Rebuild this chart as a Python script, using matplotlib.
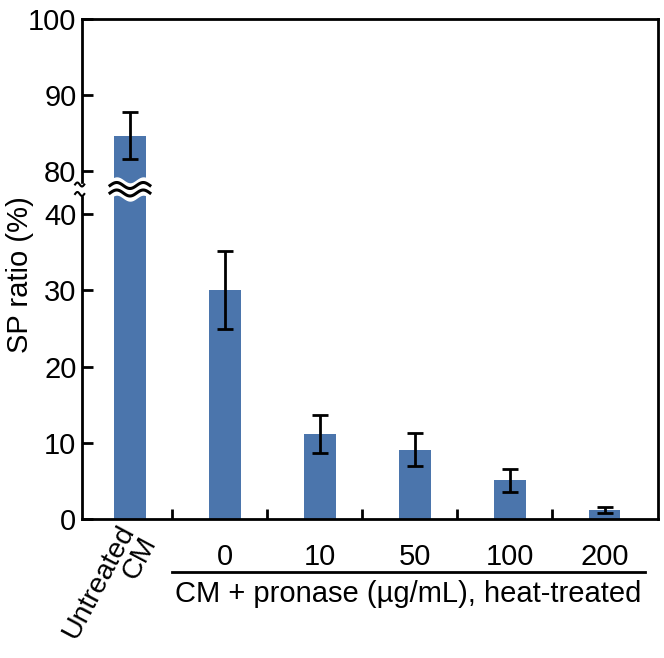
import numpy as np
import matplotlib
matplotlib.use("Agg")
import matplotlib.pyplot as plt
import matplotlib.transforms as mtransforms

plt.rcParams['font.family'] = ['Liberation Sans', 'DejaVu Sans']

categories = ["Untreated\nCM", "0", "10", "50", "100", "200"]
values = [84.7, 30.0, 11.1, 9.1, 5.1, 1.2]
errors = [3.1, 5.1, 2.5, 2.2, 1.5, 0.35]
group_label = "CM + pronase (µg/mL), heat-treated"
ylabel = "SP ratio (%)"
yticks = [0, 10, 20, 30, 40, 80, 90, 100]

GAP = 5.6  # scaled units for the break between 40 and 80
FS = 21


def fwd(v):
    v = np.asarray(v, dtype=float)
    return np.where(v <= 40, v,
                    np.where(v >= 80, v - 80 + 40 + GAP,
                             40 + (v - 40) * GAP / 40))


def inv(s):
    s = np.asarray(s, dtype=float)
    return np.where(s <= 40, s,
                    np.where(s >= 40 + GAP, s - 40 - GAP + 80,
                             40 + (s - 40) * 40 / GAP))


color = '#4b75ac'
fig = plt.figure(figsize=(6.64, 6.58), dpi=100)
ax = fig.add_axes([82/664, 1 - 519/658, (658-82)/664, 500/658])
ax.set_yscale('function', functions=(fwd, inv))

x = np.arange(len(categories))
ax.bar(x, values, width=0.33, color=color, zorder=2)
ax.errorbar(x, values, yerr=errors, fmt='none', ecolor='black',
            elinewidth=2, capsize=6, capthick=2, zorder=3)

ax.set_ylim(0, 100)
ax.set_xlim(-0.505, 5.56)
ax.set_yticks(yticks)
ax.set_yticklabels([str(t) for t in yticks])
ax.tick_params(axis='y', direction='in', length=8, width=2, labelsize=FS, pad=4)

# x ticks: labels at bars (no marks), minor inward marks between groups
ax.set_xticks(x[1:])
ax.set_xticklabels(categories[1:])
ax.tick_params(axis='x', which='major', length=0, labelsize=FS, pad=17)
ax.set_xticks(x[1:] - 0.56, minor=True)
ax.tick_params(axis='x', which='minor', direction='in', length=7, width=2)

for sp in ax.spines.values():
    sp.set_linewidth(2)

ax.set_ylabel(ylabel, fontsize=FS)
ax.yaxis.set_label_coords(-0.083, 0.488)

bt = mtransforms.blended_transform_factory(ax.transData, ax.transAxes)

# rotated label for untreated bar
ax.text(x[0] - 0.14, -0.003, categories[0], transform=bt,
        rotation=62, ha='right', va='top', fontsize=20.5, multialignment='right',
        rotation_mode='anchor', linespacing=0.95)

# group line and label
ax.plot([x[1] - 0.56, x[-1] + 0.42], [-0.106, -0.106], transform=bt, color='black',
        lw=2, clip_on=False)
ax.text((x[1] - 0.56 + x[-1] + 0.42) / 2, -0.122, group_label, transform=bt,
        ha='center', va='top', fontsize=FS)

# break on the bar
tx = np.linspace(x[0] - 0.21, x[0] + 0.21, 60)
amp = 0.006
wave = amp * np.sin((tx - tx[0]) / (tx[-1] - tx[0]) * 2 * np.pi * 1.5)
ylo, yhi = 0.643, 0.677
ax.fill_between(tx, ylo + wave, yhi + wave, transform=bt, color='white', zorder=4)
ax.plot(tx, 0.652 + wave, transform=bt, color='black', lw=2.2, zorder=5)
ax.plot(tx, 0.667 + wave, transform=bt, color='black', lw=2.2, zorder=5)

# break on the left spine
at = ax.transAxes
ax.add_patch(plt.Rectangle((-0.01, 0.648), 0.02, 0.022, transform=at, color='white',
                           zorder=6, clip_on=False))
sx = np.linspace(-0.012, 0.004, 20)
sw = 0.004 * np.sin((sx - sx[0]) / (sx[-1] - sx[0]) * 2 * np.pi)
ax.plot(sx, 0.669 + sw, transform=at, color='black', lw=1.5, clip_on=False, zorder=7)
ax.plot(sx, 0.650 + sw, transform=at, color='black', lw=1.5, clip_on=False, zorder=7)

fig.savefig('out.png', dpi=100)
